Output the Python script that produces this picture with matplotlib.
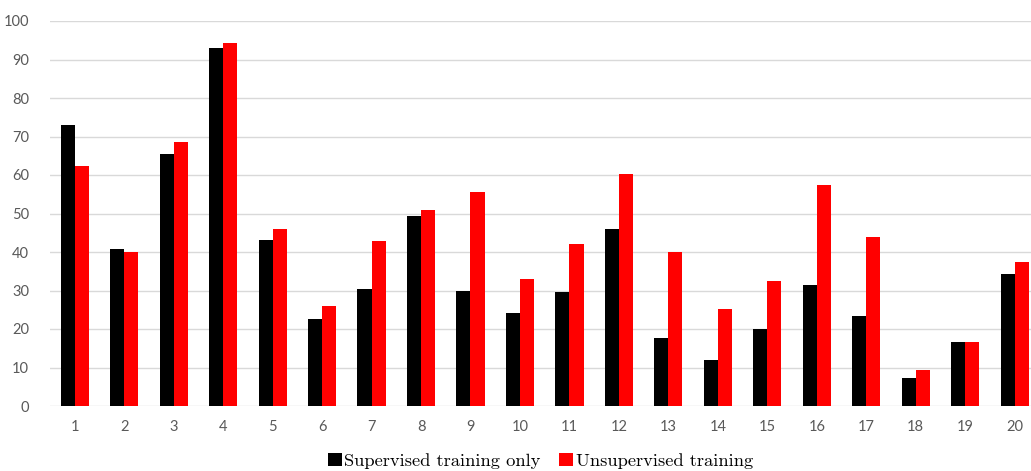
import matplotlib
matplotlib.use("Agg")
import matplotlib.pyplot as plt
import numpy as np

categories = [str(i) for i in range(1, 21)]
supervised = [73.0, 40.8, 65.5, 93.0, 43.1, 22.6, 30.4, 49.4, 30.0, 24.1,
              29.7, 46.0, 17.6, 12.0, 20.0, 31.4, 23.5, 7.2, 16.5, 34.2]
unsupervised = [62.3, 40.0, 68.6, 94.3, 46.0, 26.0, 42.9, 50.8, 55.7, 32.9,
                42.2, 60.2, 40.1, 25.2, 32.4, 57.4, 43.9, 9.3, 16.5, 37.3]
series_names = ["Supervised training only", "Unsupervised training"]
yticks = list(range(0, 101, 10))

W, H = 1031, 471
fig = plt.figure(figsize=(W / 100, H / 100), dpi=100)
ax = fig.add_axes([50 / W, 1 - 406 / H, 1 - 50 / W, (406 - 21) / H])

x = np.arange(len(categories))
bw = 0.285
ax.bar(x - bw / 2, supervised, bw, color="#000000", label=series_names[0], zorder=3)
ax.bar(x + bw / 2, unsupervised, bw, color="#ff0000", label=series_names[1], zorder=3)

ax.set_ylim(0, 100)
ax.set_xlim(-0.5, 19.33)
ax.set_yticks(yticks)
ax.set_xticks(x)
ax.set_xticklabels(categories)
ax.grid(axis="y", color="#d9d9d9", linewidth=1.0, zorder=0)
for s in ax.spines.values():
    s.set_visible(False)
ax.tick_params(axis="both", length=0, colors="#595959", labelsize=10.5)
ax.tick_params(axis="y", pad=15)
ax.tick_params(axis="x", pad=10)
for lab in ax.get_xticklabels() + ax.get_yticklabels():
    lab.set_fontfamily(["Lato", "DejaVu Sans"])

leg = ax.legend(loc="center", bbox_to_anchor=(0.5, (461 - 406) / -(406 - 21)),
                ncol=2, frameon=False, handlelength=0.75, handleheight=0.75,
                handletextpad=0.15, columnspacing=1.0,
                prop={"family": ["cmr10", "DejaVu Serif"], "size": 13.3})

fig.savefig("out.png", dpi=100, facecolor="white")
